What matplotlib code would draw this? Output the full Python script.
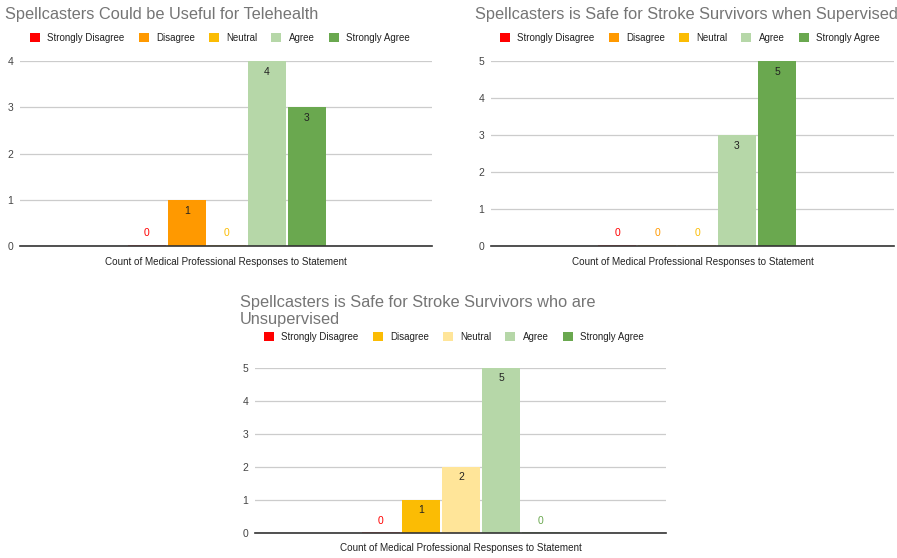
import matplotlib
matplotlib.use('Agg')
from matplotlib import pyplot as plt
from matplotlib.patches import Patch

plt.rcParams['font.family'] = ['Liberation Sans', 'DejaVu Sans']

categories = ['Strongly Disagree', 'Disagree', 'Neutral', 'Agree', 'Strongly Agree']
telehealth = [0, 1, 0, 4, 3]
supervised = [0, 0, 0, 3, 5]
unsupervised = [0, 1, 2, 5, 0]

colors_a = ['#ff0000', '#ff9900', '#fbbc04', '#b6d7a8', '#6aa84f']
colors_b = ['#ff0000', '#fbbc04', '#ffe599', '#b6d7a8', '#6aa84f']

xlabel = 'Count of Medical Professional Responses to Statement'

W, H = 897, 558
fig = plt.figure(figsize=(W / 100, H / 100), dpi=100)


def px_rect(left, top, right, bottom):
    return [left / W, 1 - bottom / H, (right - left) / W, (bottom - top) / H]


def draw_chart(rect, xlim, values, colors, ymax, title, title_xy, legend_xy, xlabel_y):
    ax = fig.add_axes(px_rect(*rect))
    xs = range(len(values))
    for x, v, c in zip(xs, values, colors):
        if v == 0:
            ax.bar(x, 0.02, width=0.95, color=c, alpha=0.5, zorder=2)
            ax.text(x, 0.3 * ymax / 5 + 0.05, '0', ha='center', va='center',
                    fontsize=7.5, color=c, zorder=3)
        else:
            ax.bar(x, v, width=0.95, color=c, zorder=2)
            ax.text(x, v - 0.3 * ymax / 5, str(v), ha='center', va='center',
                    fontsize=7.5, color='#222222', zorder=3)
    ax.set_xlim(*xlim)
    ax.set_ylim(0, ymax)
    ax.set_yticks(range(ymax + 1))
    ax.set_xticks([])
    ax.grid(axis='y', color='#cccccc', linewidth=0.9, zorder=0)
    for s in ['top', 'right', 'left']:
        ax.spines[s].set_visible(False)
    ax.spines['bottom'].set_color('#333333')
    ax.spines['bottom'].set_linewidth(1.2)
    ax.spines['bottom'].set_zorder(4)
    ax.tick_params(axis='y', length=0, pad=5, labelsize=7.5, labelcolor='#444444')

    cx = (rect[0] + rect[2]) / 2
    fig.text(cx / W, 1 - xlabel_y / H, xlabel, ha='center', va='center',
             fontsize=7.1, color='#222222')
    fig.text(title_xy[0] / W, 1 - title_xy[1] / H, title, ha='left', va='center',
             fontsize=11.8, color='#757575', linespacing=1.15)

    handles = [Patch(facecolor=c, label=l) for c, l in zip(colors, categories)]
    fig.legend(handles=handles, loc='center left', ncol=5, frameon=False,
               bbox_to_anchor=(legend_xy[0] / W, 1 - legend_xy[1] / H),
               fontsize=7.0, handlelength=1.03, handleheight=1.03,
               handletextpad=0.75, columnspacing=1.45, borderaxespad=0,
               borderpad=0, labelcolor='#222222')
    return ax


draw_chart((20, 61, 432, 246), (-3.175, 7.125), telehealth, colors_a, 4,
           'Spellcasters Could be Useful for Telehealth', (5, 15), (30, 38), 262)
draw_chart((491, 61, 894, 246), (-3.15, 6.925), supervised, colors_a, 5,
           'Spellcasters is Safe for Stroke Survivors when Supervised', (475, 15), (500, 38), 262)
draw_chart((255, 368, 666, 533), (-3.15, 7.125), unsupervised, colors_b, 5,
           'Spellcasters is Safe for Stroke Survivors who are\nUnsupervised', (240, 311), (264, 337), 548)

fig.savefig('out.png', dpi=100)
